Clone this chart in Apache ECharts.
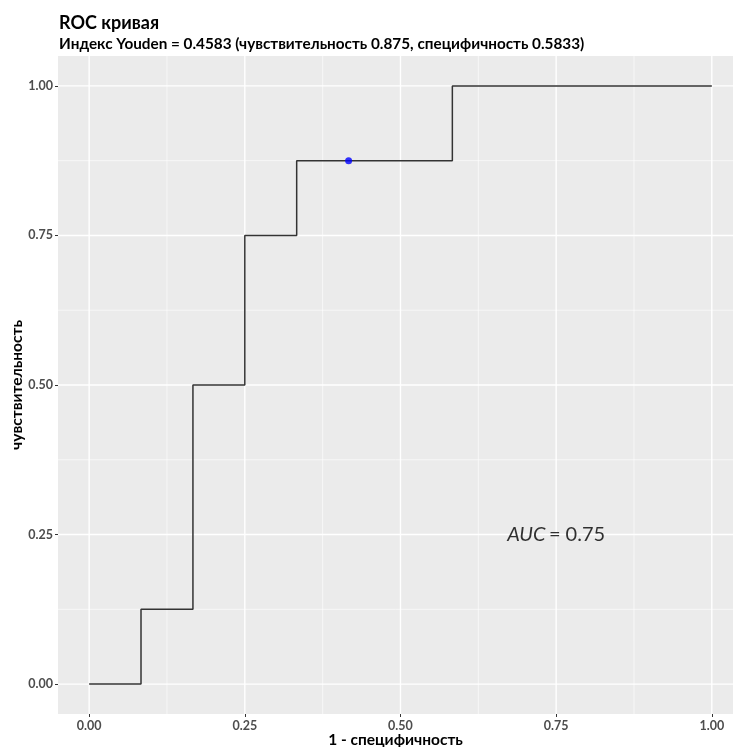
<!DOCTYPE html>
<html>
<head>
<meta charset="utf-8">
<script src="https://cdn.jsdelivr.net/npm/echarts@6/dist/echarts.min.js"></script>
<style>html,body{margin:0;padding:0;background:#fff}#c{width:733px;height:747px}</style>
</head>
<body>
<div id="c"></div>
<script>
// ROC curve corner points (1 - specificity, sensitivity)
var fpr = [0, 0.0833, 0.0833, 0.1667, 0.1667, 0.25, 0.25, 0.3333, 0.3333, 0.5833, 0.5833, 1];
var tpr = [0, 0, 0.125, 0.125, 0.5, 0.5, 0.75, 0.75, 0.875, 0.875, 1, 1];
var youdenPoint = [0.4167, 0.875];
var aucPos = [0.75, 0.25];
var aucValue = '0.75';
var majorTicks = [0, 0.25, 0.5, 0.75, 1];
var minorTicks = [0.125, 0.375, 0.625, 0.875];
var titleText = 'ROC кривая';
var subtitleText = 'Индекс Youden = 0.4583 (чувствительность 0.875, специфичность 0.5833)';
var xName = '1 - специфичность';
var yName = 'чувствительность';

var FONT = 'Lato';
var XMIN = -0.05, XMAX = 1.034, YMIN = -0.05, YMAX = 1.05;
var chart = echarts.init(document.getElementById('c'), null, {renderer: 'canvas'});

var roc = fpr.map(function (x, i) { return [x, tpr[i]]; });

// grid line items: [value, dim (0 = vertical line at x, 1 = horizontal at y), width]
var gridData = [];
minorTicks.forEach(function (v) { gridData.push([v, 0, 0.6]); gridData.push([v, 1, 0.6]); });
majorTicks.forEach(function (v) { gridData.push([v, 0, 1.4]); gridData.push([v, 1, 1.4]); });

var axisCommon = {
  type: 'value',
  splitLine: {show: false},
  axisLine: {show: false, onZero: false},
  axisTick: {show: true, customValues: majorTicks, length: 3, lineStyle: {color: '#333333', width: 1}},
  axisLabel: {
    customValues: majorTicks, margin: 5,
    color: '#4d4d4d', fontFamily: FONT, fontWeight: 'bold', fontSize: 12.5,
    formatter: function (v) { return v.toFixed(2); }
  },
  nameLocation: 'middle',
  nameMoveOverlap: false,
  nameTextStyle: {color: '#000', fontFamily: FONT, fontWeight: 'bold', fontSize: 15.5}
};

chart.setOption({
  animation: false,
  backgroundColor: '#ffffff',
  title: {
    text: titleText,
    subtext: subtitleText,
    left: 54, top: 9,
    itemGap: 5,
    textStyle: {fontFamily: FONT, fontWeight: 'bold', fontSize: 18, color: '#000'},
    subtextStyle: {fontFamily: FONT, fontWeight: 'bold', fontSize: 15.3, color: '#000'}
  },
  grid: {left: 58, right: 0, top: 56, bottom: 33, show: true, backgroundColor: '#ebebeb', borderWidth: 0,
         containLabel: false, outerBoundsMode: 'none'},
  xAxis: Object.assign({}, axisCommon, {min: XMIN, max: XMAX, name: xName, nameGap: 18}),
  yAxis: Object.assign({}, axisCommon, {min: YMIN, max: YMAX, name: yName, nameGap: 33}),
  series: [
    {
      type: 'custom', data: gridData, z: 1, silent: true, clip: false,
      renderItem: function (params, api) {
        var v = api.value(0), dim = api.value(1), w = api.value(2);
        var p1, p2;
        if (dim === 0) { p1 = api.coord([v, YMIN]); p2 = api.coord([v, YMAX]); }
        else { p1 = api.coord([XMIN, v]); p2 = api.coord([XMAX, v]); }
        return {type: 'line', shape: {x1: p1[0], y1: p1[1], x2: p2[0], y2: p2[1]},
                style: {stroke: '#ffffff', lineWidth: w}};
      }
    },
    {
      type: 'line', data: roc, z: 3, symbol: 'none',
      lineStyle: {color: '#333333', width: 1.5}
    },
    {
      type: 'scatter', data: [youdenPoint], z: 4, symbolSize: 7,
      itemStyle: {color: '#0000ff'}
    },
    {
      type: 'scatter', data: [aucPos], z: 4, symbolSize: 0, silent: true,
      label: {
        show: true, position: 'inside',
        formatter: '{i|AUC} {n|= ' + aucValue + '}',
        rich: {
          i: {fontFamily: FONT, fontStyle: 'italic', fontSize: 20, color: '#000'},
          n: {fontFamily: FONT, fontSize: 20, color: '#000'}
        }
      }
    }
  ]
});
</script>
</body>
</html>
